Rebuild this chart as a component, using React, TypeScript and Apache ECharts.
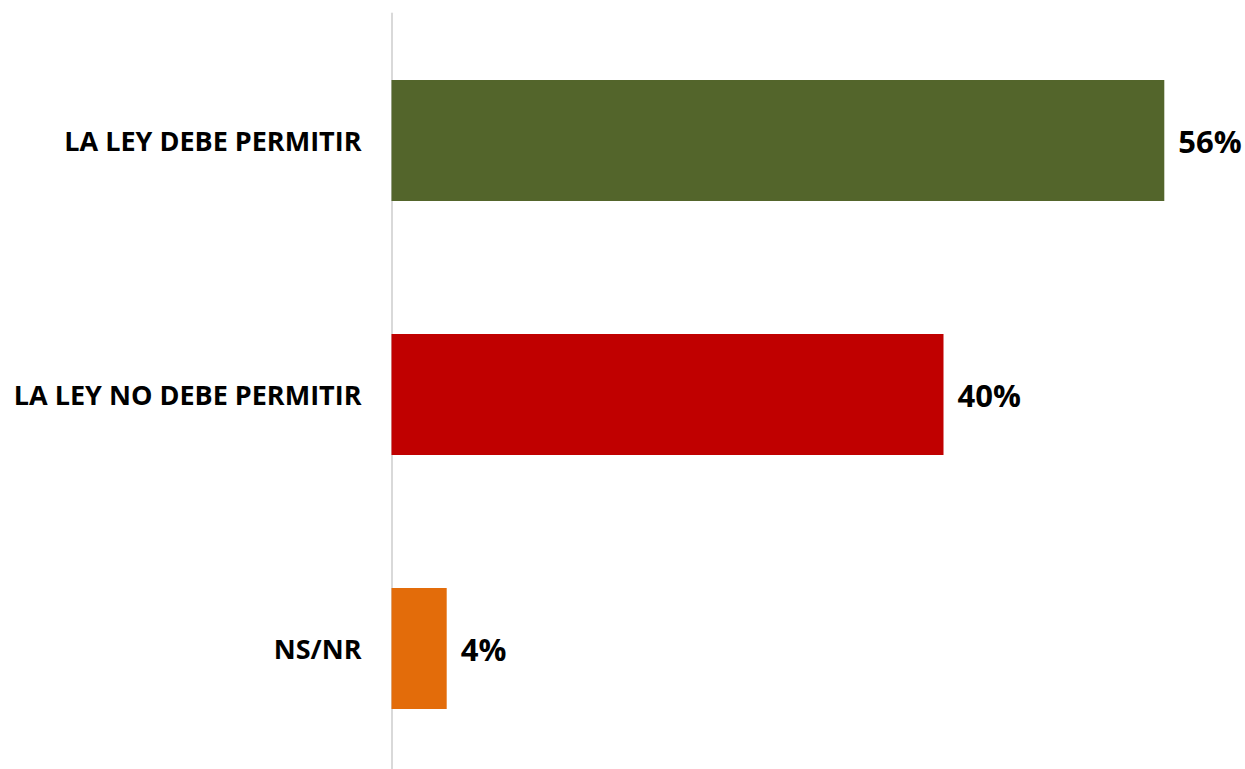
import React, { useEffect, useRef } from "react";
import * as echarts from "echarts";

const categories = ["LA LEY DEBE PERMITIR", "LA LEY NO DEBE PERMITIR", "NS/NR"];
const values = [56, 40, 4];
const colors = ["#53652B", "#C00000", "#E36C0A"];

export default function App() {
  const ref = useRef<HTMLDivElement>(null);
  useEffect(() => {
    if (!ref.current) return;
    const chart = echarts.init(ref.current, undefined, { renderer: "svg" });
    chart.setOption({
      animation: false,
      backgroundColor: "#ffffff",
      grid: { left: 391.5, width: 828, top: 13.5, height: 762, containLabel: false },
      xAxis: {
        type: "value",
        min: 0,
        max: 60,
        show: false,
      },
      yAxis: {
        type: "category",
        inverse: true,
        data: categories,
        axisLine: { show: true, lineStyle: { color: "#D9D9D9", width: 2 } },
        axisTick: { show: false },
        axisLabel: {
          margin: 30,
          color: "#000000",
          fontFamily: "Open Sans",
          fontWeight: "bold",
          fontSize: 27,
        },
      },
      series: [
        {
          type: "bar",
          barWidth: 121,
          data: values.map((v, i) => ({ value: v, itemStyle: { color: colors[i] } })),
          label: {
            show: true,
            position: "right",
            distance: 14,
            formatter: "{c}%",
            color: "#000000",
            fontFamily: "Open Sans",
            fontWeight: "bold",
            fontSize: 31,
          },
        },
      ],
    });
    return () => chart.dispose();
  }, []);
  return (
    <div
      style={{
        position: "absolute",
        left: 0,
        top: 0,
        width: 1245,
        height: 769,
        overflow: "hidden",
        background: "#ffffff",
      }}
    >
      <div ref={ref} style={{ width: 1245, height: 780 }} />
    </div>
  );
}
